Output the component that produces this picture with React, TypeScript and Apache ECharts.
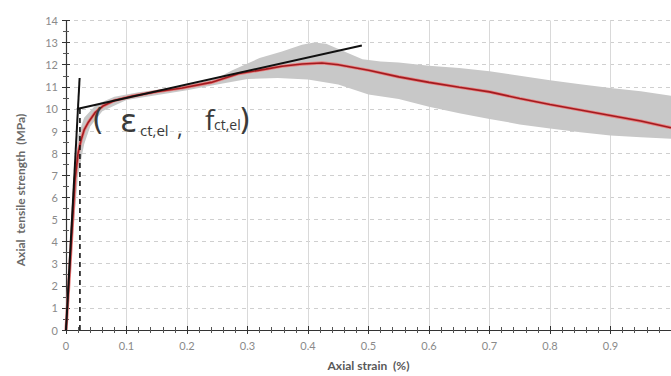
import React, { useEffect, useRef } from "react";
import * as echarts from "echarts";

// Mean stress–strain curve (strain %, stress MPa)
const meanCurve: [number, number][] = [
  [0, 0], [0.005, 2.2], [0.01, 4.5], [0.015, 6.8], [0.02, 8.0], [0.025, 8.6],
  [0.03, 9.05], [0.037, 9.4], [0.048, 9.83], [0.061, 10.13], [0.08, 10.38],
  [0.11, 10.58], [0.15, 10.78], [0.192, 10.95], [0.24, 11.2], [0.286, 11.6],
  [0.33, 11.8], [0.357, 11.93], [0.39, 12.03], [0.423, 12.08], [0.45, 12.0],
  [0.5, 11.75], [0.55, 11.45], [0.6, 11.2], [0.65, 10.98], [0.7, 10.77],
  [0.75, 10.47], [0.8, 10.2], [0.85, 9.95], [0.9, 9.7], [0.95, 9.45], [1.0, 9.15],
];

// Envelope of the test results
const bandUpper: [number, number][] = [
  [0, 0.4], [0.01, 5.2], [0.02, 8.8], [0.03, 9.6], [0.05, 10.2], [0.08, 10.55],
  [0.12, 10.75], [0.2, 11.05], [0.25, 11.4], [0.275, 11.75], [0.32, 12.3],
  [0.357, 12.6], [0.39, 12.9], [0.41, 13.0], [0.43, 12.95], [0.46, 12.6],
  [0.49, 12.25], [0.52, 12.15], [0.55, 12.1], [0.6, 11.95], [0.65, 11.85],
  [0.7, 11.7], [0.75, 11.5], [0.8, 11.3], [0.85, 11.12], [0.9, 10.95],
  [0.95, 10.8], [1.0, 10.6],
];
const bandLower: [number, number][] = [
  [0, 0], [0.012, 4.5], [0.02, 7.0], [0.03, 8.4], [0.04, 9.2], [0.06, 9.9],
  [0.1, 10.4], [0.2, 10.85], [0.25, 11.1], [0.3, 11.35], [0.35, 11.4],
  [0.4, 11.33], [0.45, 11.1], [0.5, 10.65], [0.55, 10.45], [0.6, 10.1],
  [0.65, 9.8], [0.7, 9.55], [0.75, 9.3], [0.8, 9.12], [0.85, 8.95],
  [0.9, 8.8], [0.95, 8.72], [1.0, 8.65],
];

// Construction lines
const elasticLine: [number, number][] = [[0, 0], [0.0225, 11.4]];
const tangentLine: [number, number][] = [[0.018, 10.0], [0.489, 12.87]];
const dropLine: [number, number][] = [[0.023, 0], [0.023, 10.0]];

const xMin = 0, xMax = 1.0, xStep = 0.1;
const yMin = 0, yMax = 14, yStep = 1;

const labelFont = "Lato, 'Open Sans', sans-serif";

export default function App() {
  const ref = useRef<HTMLDivElement>(null);
  useEffect(() => {
    if (!ref.current) return;
    const chart = echarts.init(ref.current, undefined, { renderer: "svg" });
    const baseX = {
      type: "value", min: xMin, max: xMax, interval: xStep,
    };
    const baseY = {
      type: "value", min: yMin, max: yMax, interval: yStep,
    };
    chart.setOption({
      animation: false,
      backgroundColor: "#ffffff",
      grid: { left: 66, right: -3, top: 20.5, bottom: 44.5, containLabel: false },
      xAxis: [
        {
          ...baseX,
          name: "Axial strain  (%)",
          nameLocation: "middle",
          nameGap: 29,
          nameTextStyle: { color: "#595959", fontSize: 12, fontWeight: "bold", fontFamily: labelFont },
          axisLine: { show: true, lineStyle: { color: "#333333", width: 1.2 } },
          axisTick: { show: true, length: 4, lineStyle: { color: "#333333" } },
          minorTick: { show: true, splitNumber: 5, length: 3, lineStyle: { color: "#555555" } },
          axisLabel: { color: "#8a8a8a", fontSize: 11, margin: 10, fontFamily: labelFont, showMaxLabel: false },
          splitLine: { show: true, lineStyle: { color: "#d9d9d9", width: 1 } },
        },
        {
          ...baseX,
          position: "bottom",
          axisLine: { show: false },
          axisTick: { show: true, inside: true, length: 4, lineStyle: { color: "#333333" } },
          minorTick: { show: true, splitNumber: 5, length: 3, lineStyle: { color: "#555555" } },
          axisLabel: { show: false },
          splitLine: { show: false },
        },
      ],
      yAxis: [
        {
          ...baseY,
          axisLine: { show: true, lineStyle: { color: "#333333", width: 1.2 } },
          axisTick: { show: true, length: 4, lineStyle: { color: "#333333" } },
          minorTick: { show: true, splitNumber: 2, length: 3, lineStyle: { color: "#555555" } },
          axisLabel: { color: "#8a8a8a", fontSize: 11, margin: 8, fontFamily: labelFont },
          splitLine: { show: true, lineStyle: { color: "#cfcfcf", width: 1, type: [4, 4] } },
        },
        {
          ...baseY,
          position: "left",
          axisLine: { show: false },
          axisTick: { show: true, inside: true, length: 4, lineStyle: { color: "#333333" } },
          minorTick: { show: true, splitNumber: 2, length: 3, lineStyle: { color: "#555555" } },
          axisLabel: { show: false },
          splitLine: { show: false },
        },
      ],
      graphic: [
        {
          type: "text",
          x: 20, y: 190, rotation: Math.PI / 2,
          style: {
            text: "Axial  tensile strength  (MPa)",
            fill: "#6a6a6a", fontSize: 12, fontWeight: "bold", fontFamily: labelFont,
            align: "center", verticalAlign: "middle",
          },
        },
        { type: "text", x: 92, y: 119, z: 100, style: { text: "(", fill: "#3a3a3a", fontSize: 30, fontFamily: "'DejaVu Sans', sans-serif", verticalAlign: "middle" } },
        { type: "text", x: 120, y: 121, z: 100, style: { text: "ε", fill: "#3a3a3a", fontSize: 32, fontFamily: "'DejaVu Sans', sans-serif", verticalAlign: "middle" } },
        { type: "text", x: 140, y: 130, z: 100, style: { text: "ct,el", fill: "#3a3a3a", fontSize: 15, fontFamily: "'Open Sans', sans-serif", verticalAlign: "middle" } },
        { type: "text", x: 177, y: 127, z: 100, style: { text: ",", fill: "#3a3a3a", fontSize: 22, fontFamily: "'Open Sans', sans-serif", verticalAlign: "middle" } },
        { type: "text", x: 205, y: 119, z: 100, style: { text: "f", fill: "#3a3a3a", fontSize: 28, fontFamily: "'Open Sans', sans-serif", verticalAlign: "middle" } },
        { type: "text", x: 214, y: 124, z: 100, style: { text: "ct,el", fill: "#3a3a3a", fontSize: 14, fontFamily: "'Open Sans', sans-serif", verticalAlign: "middle" } },
        { type: "text", x: 239, y: 119, z: 100, style: { text: ")", fill: "#3a3a3a", fontSize: 30, fontFamily: "'DejaVu Sans', sans-serif", verticalAlign: "middle" } },
      ],
      series: [
        {
          type: "custom",
          name: "envelope",
          xAxisIndex: 0, yAxisIndex: 0,
          data: [[0, 0]],
          silent: true,
          z: 1,
          renderItem: (params: any, api: any) => {
            const pts = [
              ...bandUpper.map((p) => api.coord(p)),
              ...bandLower.slice().reverse().map((p) => api.coord(p)),
            ];
            return { type: "polygon", shape: { points: pts }, style: { fill: "#c8c8c8" } };
          },
        },
        {
          type: "line", name: "halo", xAxisIndex: 0, yAxisIndex: 0,
          data: meanCurve, showSymbol: false, symbol: "none", z: 3,
          lineStyle: { color: "#e77f7f", width: 3.2 },
        },
        {
          type: "line", name: "mean", xAxisIndex: 0, yAxisIndex: 0,
          data: meanCurve, showSymbol: false, symbol: "none", z: 4,
          lineStyle: { color: "#a31b1f", width: 1.6 },
        },
        {
          type: "line", name: "elastic", xAxisIndex: 0, yAxisIndex: 0,
          data: elasticLine, showSymbol: false, symbol: "none", z: 5,
          lineStyle: { color: "#111111", width: 2 },
        },
        {
          type: "line", name: "tangent", xAxisIndex: 0, yAxisIndex: 0,
          data: tangentLine, showSymbol: false, symbol: "none", z: 5,
          lineStyle: { color: "#111111", width: 2 },
        },
        {
          type: "line", name: "drop", xAxisIndex: 0, yAxisIndex: 0,
          data: dropLine, showSymbol: false, symbol: "none", z: 5,
          lineStyle: { color: "#111111", width: 1.6, type: [5, 4] },
        },
      ],
    });
    return () => chart.dispose();
  }, []);
  return <div ref={ref} style={{ width: 671, height: 376, position: "absolute", left: 0, top: 0 }} />;
}
